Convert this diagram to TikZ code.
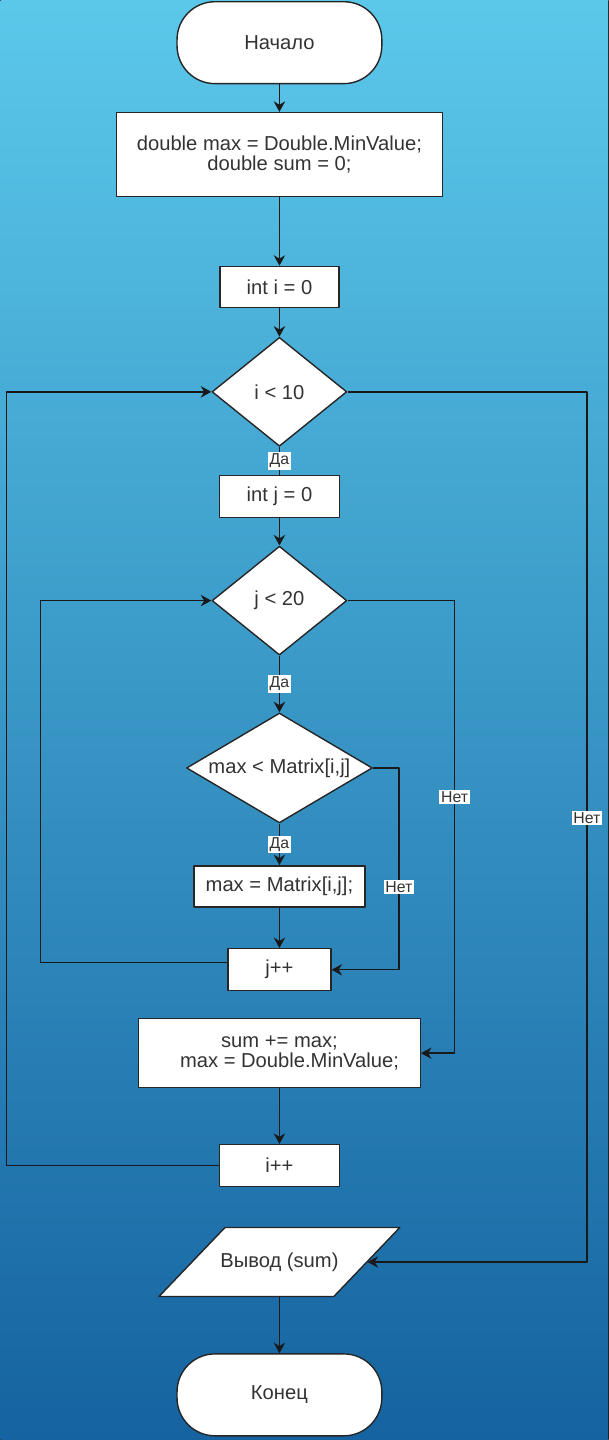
\documentclass[tikz,border=0pt]{standalone}
\usepackage{fontspec}
\setmainfont{Liberation Sans}
\usetikzlibrary{shapes.geometric,arrows.meta}
\definecolor{bgtop}{HTML}{5BC8EA}
\definecolor{bgbot}{HTML}{1563A0}
\definecolor{txt}{HTML}{333333}
\begin{document}
\begin{tikzpicture}[x=0.02cm, y=-0.02cm, >={Stealth[length=6pt,width=6.5pt]},
  line join=round, font=\fontsize{11.5}{11.5}\selectfont,
  base/.style={draw=black!85, line width=0.8pt, fill=white, text=txt, align=center, inner sep=0pt},
  term/.style={base, rectangle, rounded corners=38*\pxl, minimum width=205*\pxl, minimum height=82*\pxl},
  proc/.style={base, rectangle},
  cond/.style={base, diamond, aspect=1.7},
  io/.style={text=txt, inner sep=0pt, minimum width=175*\pxl, minimum height=69*\pxl},
  lbl/.style={fill=white, inner sep=1pt, text=txt, font=\fontsize{9}{10}\selectfont},
  every path/.style={draw=black!90, line width=0.8pt}]
  \def\pxl{0.02cm} % 1 px
  \useasboundingbox (0,0) rectangle (608,1440);
  \shade[top color=bgtop, bottom color=bgbot, draw=none] (0,0) rectangle (608,1440);
  % blocks
  \node[term] (start) at (279,42) {Начало};
  \node[proc, minimum width=326*\pxl, minimum height=84*\pxl] (init) at (279,154)
    {double max = Double.MinValue;\\double sum = 0;};
  \node[proc, minimum width=119*\pxl, minimum height=41*\pxl] (iset) at (279,286.5) {int i = 0};
  \node[cond, minimum width=135*\pxl, minimum height=109*\pxl] (icond) at (279,391.5) {i < 10};
  \node[proc, minimum width=120*\pxl, minimum height=42*\pxl] (jset) at (279,496) {int j = 0};
  \node[cond, minimum width=135*\pxl, minimum height=109*\pxl] (jcond) at (279,600.5) {j < 20};
  \node[cond, minimum width=186*\pxl, minimum height=110*\pxl] (mcond) at (279,768) {max < Matrix[i,j]};
  \node[proc, minimum width=171*\pxl, minimum height=41*\pxl] (mset) at (279,886.5) {max = Matrix[i,j];};
  \node[proc, minimum width=103*\pxl, minimum height=42*\pxl] (jinc) at (279,970) {j++};
  \node[proc, minimum width=282*\pxl, minimum height=69*\pxl] (sum) at (279,1053.5)
    {sum += max;\\\hspace*{1em}max = Double.MinValue;};
  \node[proc, minimum width=120*\pxl, minimum height=42*\pxl] (iinc) at (279,1166) {i++};
  % output: parallelogram drawn by hand, text node inside
  \draw[fill=white, draw=black!85] (158.5,1297) -- (333.5,1297) -- (399.5,1228) -- (224.5,1228) -- cycle;
  \node[io] (out) at (279,1262.5) {Вывод (sum)};
  \node[term] (stop) at (279,1395.5) {Конец};
  % columns of the side lines
  \coordinate (li) at (6,0);
  \coordinate (lj) at (40,0);
  \coordinate (rm) at (398.6,0);
  \coordinate (rj) at (454.4,0);
  \coordinate (ri) at (586.7,0);
  % main line
  \draw[->] (start) -- (init);
  \draw[->] (init) -- (iset);
  \draw[->] (iset) -- (icond);
  \draw (icond) -- node[lbl]{Да} (jset);
  \draw[->] (jset) -- (jcond);
  \draw[->] (jcond) -- node[lbl]{Да} (mcond);
  \draw[->] (mcond) -- node[lbl]{Да} (mset);
  \draw[->] (mset) -- (jinc);
  \draw[->] (sum) -- (iinc);
  \draw[->] (out) -- (stop);
  % loops back
  \draw[->] ([yshift=0.14cm]jinc.west) -| (lj |- jcond.west) -- (jcond.west);
  \draw[->] (iinc.west) -| (li |- icond.west) -- (icond.west);
  % exits
  \draw[->] (mcond.east) -| node[lbl, pos=0.795]{Нет} (rm |- jinc.east) -- (jinc.east);
  \draw[->] (jcond.east) -| node[lbl, pos=0.717]{Нет} (rj |- sum.east) -- (sum.east);
  \draw[->] (icond.east) -| node[lbl, pos=0.745]{Нет} (ri |- out.east) -- (out.east);
\end{tikzpicture}
\end{document}
